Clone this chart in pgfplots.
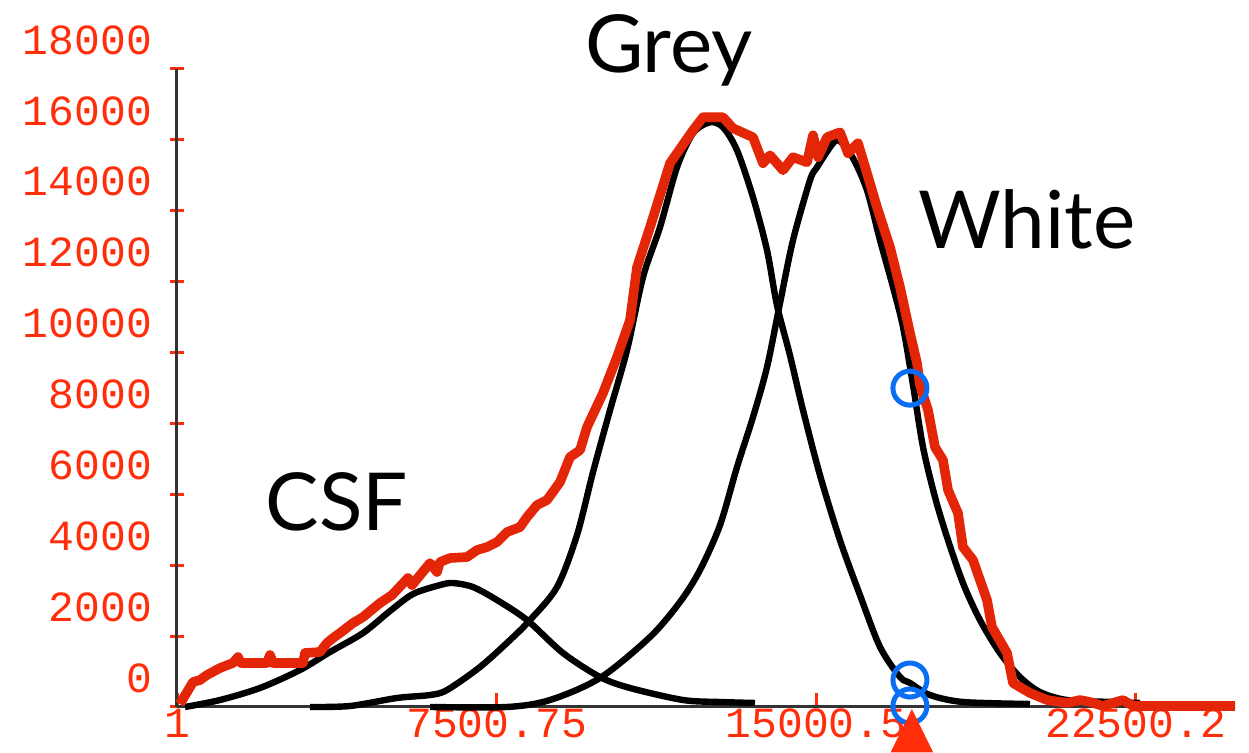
\documentclass[border=0pt]{standalone}
\usepackage{pgfplots}
\pgfplotsset{compat=1.18}
\usepackage{fontspec}
\setmainfont{Lato}
\newfontfamily\tickfont{Liberation Mono}
\definecolor{histred}{RGB}{228,38,8}
\definecolor{labred}{RGB}{255,45,10}
\definecolor{ringblue}{RGB}{10,110,245}
\begin{document}
\begin{tikzpicture}
\begin{axis}[
  scale only axis, width=529pt, height=319pt,
  xmin=0, xmax=24834, ymin=0, ymax=18000,
  scaled x ticks=false, scaled y ticks=false,
  axis lines=left,
  axis line style={-, draw=black!80, line width=1.5pt},
  tick align=inside, major tick length=7pt,
  xtick={1,7500.75,15000.5,22500.2},
  xticklabels={1,7500.75,15000.5,22500.2},
  ytick={0,2000,...,18000},
  yticklabels={0,2000,4000,6000,8000,10000,12000,14000,16000,18000},
  tick style={labred, line width=1.5pt},
  ytick style={xshift=-3.5pt},
  tick label style={font=\tickfont\fontsize{21.5}{24}\selectfont, text=labred},
  yticklabel style={yshift=14.5pt, xshift=-9pt},
  xticklabel style={yshift=2.5pt},
  clip=false,
]
% CSF
\addplot[black, line width=3.2pt, smooth] coordinates {
 (188,0) (1009,197) (1948,536) (2887,1043) (3591,1551) (4366,2087) (4999,2707)
 (5539,3187) (6173,3440) (6478,3497) (6948,3384) (7511,3017) (8216,2453)
 (9060,1523) (9929,846) (10633,536) (11877,197) (12746,141) (13567,113)
};
% Grey
\addplot[black, line width=3.2pt, smooth] coordinates {
 (3122,0) (4060,28) (5164,254) (5939,338) (6338,479) (7112,1128) (7817,1889)
 (8286,2453) (8920,3384) (9389,4850) (9765,6627) (10164,8375) (10563,10067)
 (10938,12126) (11337,13536) (11737,15228) (12112,16187) (12511,16497)
 (12816,16356) (13145,15707) (13520,14382) (13849,12887) (14083,11336)
 (14387,9926) (14694,8375) (15092,6542) (15561,4709) (16031,3158)
 (16502,1692) (16971,846) (17206,677) (17675,338) (18449,141) (20022,85)
};
% White
\addplot[black, line width=3.2pt, smooth] coordinates {
 (5939,0) (7746,0) (8755,197) (9929,818) (11103,1974) (11806,2961) (12276,3863)
 (12746,5132) (13145,6768) (13520,8178) (13849,9588) (14154,11393) (14459,13169)
 (14858,14861) (15023,15228) (15398,15905) (15563,15961) (15868,15482)
 (16196,14579) (16502,13169) (16807,11844) (17042,10716) (17276,9080)
 (17511,7332) (17792,5922) (18074,4794) (18449,3497) (18848,2453) (19317,1523)
 (19786,846) (20256,423) (20891,197) (21971,141) (22604,113)
};
% histogram
\addplot[histred, line width=4.8pt, line join=round] coordinates {
 (70,85) (376,705) (540,761) (704,902) (1009,1100) (1314,1241) (1432,1410)
 (1502,1241) (2113,1241) (2183,1466) (2253,1241) (2958,1241) (3004,1523)
 (3357,1551) (3521,1805) (3662,1946) (3826,2087) (4131,2369) (4366,2538)
 (4765,2933) (5047,3158) (5422,3638) (5516,3440) (5939,4061) (6103,3807)
 (6173,4089) (6408,4202) (6807,4230) (7042,4427) (7277,4512) (7511,4653)
 (7746,4935) (8051,5076) (8216,5358) (8450,5696) (8685,5837) (8990,6345)
 (9225,7050) (9460,7247) (9624,7896) (9999,8855) (10328,9870) (10633,10913)
 (10798,12408) (11103,13536) (11572,15341) (12112,16271) (12347,16638)
 (12816,16638) (13051,16328) (13520,16074) (13755,15341) (13919,15566)
 (14225,15143) (14459,15510) (14788,15369) (14929,16130) (15046,15510)
 (15257,16074) (15563,16215) (15750,15623) (15985,15905) (16196,15059)
 (16431,14100) (16736,12972) (16971,11844) (17206,10547) (17370,9701)
 (17440,9080) (17628,8375) (17792,7332) (17980,6965) (18098,6119) (18331,5471)
 (18448,4512) (18684,4145) (18848,3581) (19013,3017) (19130,2256) (19483,1523)
 (19623,677) (20022,395) (20421,197) (20891,113) (21196,197) (21431,141)
 (21736,28) (22205,197) (22440,28) (22910,28) (23848,28) (24834,28)
};
% markers
\addplot[only marks, mark=o, mark size=8.5pt, ringblue, line width=2.5pt] coordinates {
 (17204,8996) (17204,761) (17204,28)
};
\addplot[only marks, mark=triangle*, mark size=14pt, labred,
  mark options={xscale=0.85}] coordinates {(17250,-874)};
\node[anchor=base, font=\fontsize{40}{44}\selectfont] at (axis cs:11547,17907) {Grey};
\node[anchor=base, font=\fontsize{40}{44}\selectfont] at (axis cs:19950,12944) {White};
\node[anchor=base, font=\fontsize{40}{44}\selectfont] at (axis cs:3755,4991) {CSF};
\end{axis}
\pgfresetboundingbox
\path[use as bounding box] ([shift={(-88.5pt,-23pt)}]current axis.south west)
  rectangle ([shift={(7pt,34.5pt)}]current axis.north east);
\end{tikzpicture}
\end{document}
